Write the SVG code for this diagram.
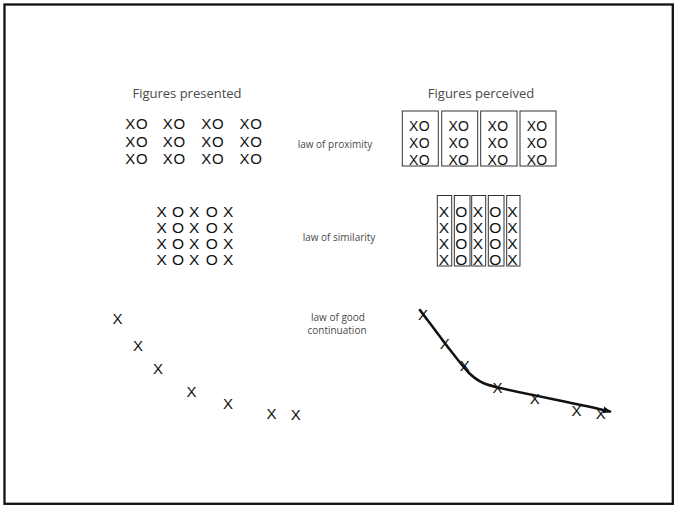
<svg xmlns="http://www.w3.org/2000/svg" width="675" height="506" viewBox="0 0 675 506">
<defs>
<style>
.lbl{font-family:"Open Sans","Noto Sans","Liberation Sans",sans-serif;fill:#4a4a4a;}
.title{font-size:13px;text-anchor:middle;}
.law{font-size:10px;text-anchor:middle;}
.xo{font-family:"Liberation Sans",Arial,sans-serif;fill:#111;}
.box{fill:none;stroke:#333;stroke-width:1;}
</style>
<marker id="arr" viewBox="0 0 10 10" refX="8" refY="5" markerWidth="3.5" markerHeight="3.5" orient="auto" markerUnits="strokeWidth">
<path d="M0,1 L10,5 L0,9 z" fill="#111"/>
</marker>
</defs>
<rect x="4.5" y="4.5" width="668.3" height="499.3" fill="#fff" stroke="#111" stroke-width="2.3"/>

<g id="titles">
<text class="lbl title" x="187" y="98">Figures presented</text>
<text class="lbl title" x="481" y="98">Figures perceived</text>
</g>

<g id="labels">
<text class="lbl law" x="335" y="148">law of proximity</text>
<text class="lbl law" x="339" y="241">law of similarity</text>
<text class="lbl law" x="338" y="320.5">law of good</text>
<text class="lbl law" x="337" y="334">continuation</text>
</g>

<g id="proximity-presented" class="xo" font-size="15" letter-spacing="0.8">
<text x="125.2" y="129">XO</text><text x="162.8" y="129">XO</text><text x="201.2" y="129">XO</text><text x="239.5" y="129">XO</text>
<text x="125.2" y="146.5">XO</text><text x="162.8" y="146.5">XO</text><text x="201.2" y="146.5">XO</text><text x="239.5" y="146.5">XO</text>
<text x="125.2" y="163.5">XO</text><text x="162.8" y="163.5">XO</text><text x="201.2" y="163.5">XO</text><text x="239.5" y="163.5">XO</text>
</g>

<g id="proximity-perceived">
<rect class="box" x="402.3" y="111" width="36" height="55"/>
<rect class="box" x="441.7" y="111" width="36" height="55"/>
<rect class="box" x="480.7" y="111" width="36.3" height="55"/>
<rect class="box" x="520" y="111" width="36" height="55"/>
<g class="xo" font-size="14" letter-spacing="0.3">
<text x="409" y="131">XO</text><text x="448.4" y="131">XO</text><text x="487.5" y="131">XO</text><text x="526.7" y="131">XO</text>
<text x="409" y="147.7">XO</text><text x="448.4" y="147.7">XO</text><text x="487.5" y="147.7">XO</text><text x="526.7" y="147.7">XO</text>
<text x="409" y="164.8">XO</text><text x="448.4" y="164.8">XO</text><text x="487.5" y="164.8">XO</text><text x="526.7" y="164.8">XO</text>
</g>
</g>

<g id="similarity-presented" class="xo" font-size="15.5">
<text x="156.5 172 189 205.7 223" y="216.7">XOXOX</text>
<text x="156.5 172 189 205.7 223" y="232.5">XOXOX</text>
<text x="156.5 172 189 205.7 223" y="248.5">XOXOX</text>
<text x="156.5 172 189 205.7 223" y="264.5">XOXOX</text>
</g>

<g id="similarity-perceived">
<rect class="box" x="437.3" y="195.5" width="14.4" height="70.5"/>
<rect class="box" x="454.3" y="195.5" width="15.7" height="70.5"/>
<rect class="box" x="471.7" y="195.5" width="14" height="70.5"/>
<rect class="box" x="488.3" y="195.5" width="15.7" height="70.5" stroke-width="1.5"/>
<rect class="box" x="506.7" y="195.5" width="13.3" height="70.5"/>
<g class="xo" font-size="15.5">
<text x="438.8 455.3 472.8 489.2 507.3" y="216.7">XOXOX</text>
<text x="438.8 455.3 472.8 489.2 507.3" y="232.7">XOXOX</text>
<text x="438.8 455.3 472.8 489.2 507.3" y="248.7">XOXOX</text>
<text x="438.8 455.3 472.8 489.2 507.3" y="265">XOXOX</text>
</g>
</g>

<g id="continuation-presented" class="xo" font-size="15">
<text x="112.4" y="323.5">X</text>
<text x="133" y="351">X</text>
<text x="153" y="374.3">X</text>
<text x="186.4" y="397">X</text>
<text x="223" y="408.6">X</text>
<text x="266.4" y="418.6">X</text>
<text x="290.7" y="420.3">X</text>
</g>

<g id="connectors">
<path d="M420,310 C438,334 456,359 468,372 C479,383 487,385 500,388 C540,397 580,404 610,411.5" fill="none" stroke="#111" stroke-width="2.5" stroke-linecap="round" marker-end="url(#arr)"/>
</g>

<g id="continuation-perceived" class="xo" font-size="15">
<text x="418" y="320.3">X</text>
<text x="439.7" y="348.6">X</text>
<text x="459.7" y="371">X</text>
<text x="492.4" y="393">X</text>
<text x="529.7" y="404.3">X</text>
<text x="571.4" y="416.3">X</text>
<text x="595.7" y="418.6">X</text>
</g>
</svg>
